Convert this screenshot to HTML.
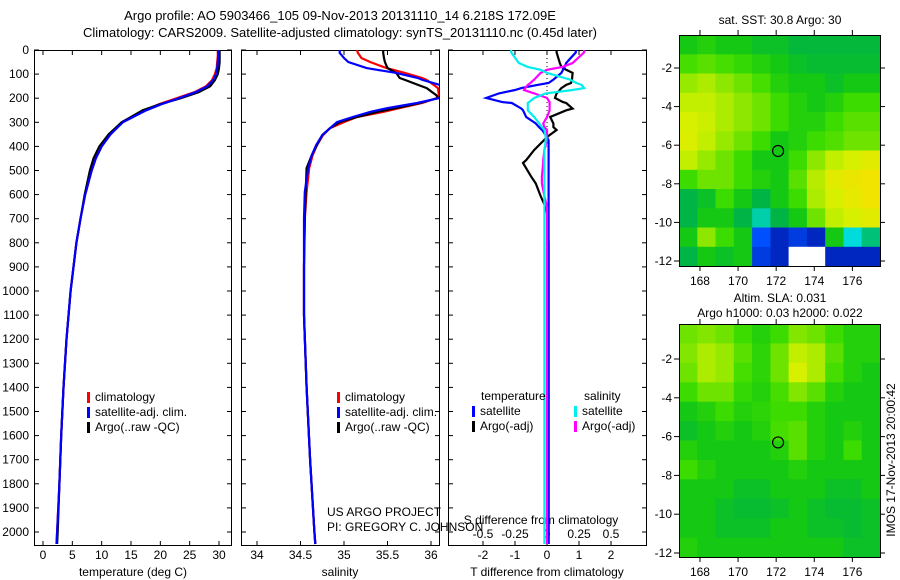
<!DOCTYPE html>
<html><head><meta charset="utf-8"><style>
body{margin:0;background:#fff;}
svg{display:block;font-family:"Liberation Sans",sans-serif;font-size:12px;}
</style></head><body>
<svg id="c" width="900" height="580" viewBox="0 0 900 580"></svg>
<script>
const depths=[0,25,50,75,100,125,150,175,200,225,250,300,350,400,450,500,600,700,800,900,1000,1200,1400,1600,1800,2000,2050];
const tempClim=[29.8,29.8,29.7,29.6,29.3,28.8,27.8,25.8,22.8,19.8,17.4,13.5,11.5,10.0,9.0,8.3,7.2,6.4,5.7,5.2,4.7,4.0,3.5,3.1,2.8,2.4,2.3];
const tempSat=[29.9,29.9,29.8,29.7,29.5,29.0,28.0,26.0,23.2,20.2,17.6,13.6,11.5,10.0,9.0,8.3,7.2,6.4,5.7,5.2,4.7,4.0,3.5,3.1,2.8,2.4,2.3];
const tempArgo=[30.1,30.1,30.1,30.0,29.8,29.3,28.5,26.5,23.5,20.0,17.0,13.4,11.2,9.6,8.6,8.0,7.1,6.4,5.7,5.2,4.7,4.0,3.5,3.1,2.8,2.5,2.4];
const salDepths=[0,12,33,50,75,95,116,124,145,158,187,199,220,241,257,278,299,324,353,394,436,490,589,700,900,1100,1400,1700,2000,2050];
const salClim=[35.15,35.16,35.2,35.3,35.49,35.7,35.9,35.95,36.03,36.08,36.09,36.07,35.9,35.64,35.45,35.15,35.0,34.84,34.76,34.69,34.64,34.6,34.57,34.55,34.54,34.54,34.57,34.61,34.66,34.67];
const salSat=[34.95,34.95,35.0,35.05,35.26,35.6,35.85,35.9,36.1,36.15,36.2,36.1,35.84,35.5,35.3,35.1,34.92,34.84,34.75,34.68,34.63,34.59,34.55,34.54,34.54,34.54,34.57,34.61,34.66,34.67];
const salArgo=[35.45,35.45,35.46,35.47,35.5,35.6,35.64,35.7,35.85,35.95,36.06,36.08,35.87,35.6,35.38,35.15,34.95,34.84,34.75,34.69,34.63,34.57,34.56,34.55,34.54,34.54,34.57,34.61,34.66,34.67];
const diffDepths=[0,10,54,70,82,95,123,137,145,158,166,180,199,216,220,243,250,278,305,320,332,361,375,415,457,469,524,554,606,650,675,800,1000,1500,2050];
const dTSat=[0.9,0.9,0.6,0.55,0.5,0.45,0.2,0.05,-0.3,-0.8,-1.0,-1.5,-1.9,-1.4,-1.1,-0.8,-0.75,-0.65,-0.35,-0.25,-0.15,0.0,0.05,0.05,0.05,0.05,0.05,0.05,0.05,0.05,0.05,0.05,0.05,0.05,0.05];
const dTArgo=[0.3,0.3,0.4,0.45,0.6,0.8,0.78,0.75,0.6,0.45,0.4,0.3,0.25,0.5,0.6,0.8,0.6,0.1,0.2,0.2,0.3,0.0,-0.1,-0.4,-0.65,-0.75,-0.5,-0.35,-0.2,-0.05,0.0,0.05,0.05,0.05,0.05];
const dSSat=[-0.28,-0.28,-0.22,-0.15,-0.05,0.0,0.18,0.23,0.27,0.29,0.2,-0.01,-0.1,-0.14,-0.15,-0.15,-0.15,-0.1,-0.06,-0.04,-0.02,-0.01,-0.01,-0.02,-0.02,-0.02,-0.02,-0.02,-0.02,-0.02,-0.02,-0.02,-0.02,-0.02,-0.02];
const dSArgo=[0.29,0.29,0.2,0.12,0.0,-0.05,-0.1,-0.13,-0.15,-0.17,-0.18,-0.1,0.0,0.02,0.02,0.02,0.02,0.0,-0.03,-0.02,0.0,0.0,0.0,-0.02,-0.03,-0.03,-0.04,-0.04,-0.02,0.0,0.0,0.0,0.0,0.0,0.0];
const depthTicks=[0,100,200,300,400,500,600,700,800,900,1000,1100,1200,1300,1400,1500,1600,1700,1800,1900,2000];
const tTicks=[0,5,10,15,20,25,30];
const sTicks=[34,34.5,35,35.5,36];
const dTTicks=[-2,-1,0,1,2];
const dSTickLabels=["-0.5","-0.25","0","0.25","0.5"];
const dSTicks=[-0.5,-0.25,0,0.25,0.5];
const lonTicks=[168,170,172,174,176];
const latTicks=[-2,-4,-6,-8,-10,-12];
const sstGrid=[
[.5,.52,.5,.5,.48,.48,.46,.46,.46,.46,.46],
[.56,.58,.56,.54,.52,.5,.48,.47,.47,.47,.47],
[.64,.66,.63,.6,.56,.52,.5,.5,.48,.5,.5],
[.68,.68,.66,.63,.6,.55,.52,.5,.52,.55,.55],
[.7,.69,.66,.63,.6,.55,.52,.52,.55,.58,.58],
[.71,.68,.64,.6,.55,.5,.52,.55,.57,.6,.6],
[.68,.64,.6,.55,.5,.5,.55,.63,.68,.7,.72],
[.55,.6,.6,.55,.52,.5,.58,.67,.72,.74,.75],
[.45,.48,.55,.5,.45,.5,.55,.66,.7,.73,.75],
[.45,.5,.5,.45,.35,.45,.5,.6,.68,.7,.72],
[.5,.63,.55,.5,.2,.1,.15,.1,.5,.3,.4],
[.45,.5,.48,.5,.15,.1,-1,-1,.1,.1,.1]];
const slaGrid=[
[.6,.62,.6,.55,.52,.55,.62,.6,.55,.52,.52],
[.62,.66,.64,.58,.53,.6,.68,.66,.58,.52,.52],
[.6,.66,.64,.56,.53,.6,.7,.66,.56,.52,.5],
[.55,.6,.6,.54,.52,.56,.62,.58,.52,.5,.5],
[.5,.52,.55,.52,.53,.55,.55,.52,.5,.5,.5],
[.48,.5,.52,.5,.52,.56,.58,.52,.5,.52,.5],
[.52,.5,.5,.5,.5,.52,.58,.52,.5,.55,.5],
[.55,.52,.5,.5,.5,.5,.52,.5,.5,.5,.5],
[.5,.5,.5,.48,.48,.5,.5,.5,.48,.48,.5],
[.5,.5,.48,.47,.47,.48,.5,.48,.47,.47,.48],
[.5,.5,.48,.48,.48,.5,.5,.48,.48,.47,.48],
[.52,.5,.5,.5,.5,.5,.5,.5,.5,.48,.48]];
const argoLon=172.1, argoLat=-6.3;

const NS="http://www.w3.org/2000/svg";
const svg=document.getElementById('c');
function el(tag,attrs,parent){const e=document.createElementNS(NS,tag);for(const k in attrs)e.setAttribute(k,attrs[k]);(parent||svg).appendChild(e);return e;}
function txt(x,y,s,anchor,parent,size){const t=el('text',{x:x,y:y,'text-anchor':anchor||'start','font-size':size||12},parent);t.textContent=s;return t;}
const Y0=50,PB=545;
const yD=d=>Y0+d*0.2410;
const panels=[{x0:34,x1:231},{x0:241,x1:439},{x0:448,x1:646}];
const xT=v=>43+v*(219-43)/30;
const xS=v=>257+(v-34)*87;
const xDT=v=>547+v*32;
const xDS=v=>547+v*128;

let t=txt(340,20,"Argo profile: AO 5903466_105 09-Nov-2013 20131110_14 6.218S 172.09E","middle",null,13);

t=txt(340,37,"Climatology: CARS2009. Satellite-adjusted climatology: synTS_20131110.nc (0.45d later)","middle",null,13);


const defs=el('defs',{});
panels.forEach((p,i)=>{
  const cp=el('clipPath',{id:'cp'+i},defs);
  el('rect',{x:p.x0,y:Y0,width:p.x1-p.x0,height:PB-Y0},cp);
});

function panelFrame(p,name){
  const g=el('g',{});
  
  
  el('rect',{x:p.x0+0.5,y:Y0+0.5,width:p.x1-p.x0,height:PB-Y0,fill:'none',stroke:'#000'},g);
  depthTicks.forEach(d=>{
    el('line',{x1:p.x0,x2:p.x0+5,y1:yD(d),y2:yD(d),stroke:'#000'},g);
    el('line',{x1:p.x1-4,x2:p.x1+1,y1:yD(d),y2:yD(d),stroke:'#000'},g);
  });
  return g;
}
function line(xs,ds,sc,color,clip,name){
  const pts=xs.map((v,i)=>sc(v).toFixed(1)+','+yD(ds[i]).toFixed(1)).join(' ');
  const pl=el('polyline',{points:pts,fill:'none',stroke:color,'stroke-width':2.2,'clip-path':'url(#'+clip+')'});
  
  
}
function xTicks(p,ticks,sc,labels,name,ylab){
  const g=el('g',{});
  
  
  ticks.forEach((v,i)=>{
    const x=sc(v);
    el('line',{x1:x,x2:x,y1:Y0,y2:Y0+5,stroke:'#000'},g);
    el('line',{x1:x,x2:x,y1:PB-4,y2:PB,stroke:'#000'},g);
    txt(x,ylab||559,labels?labels[i]:String(v),'middle',g);
  });
}
panelFrame(panels[0],'temperature-panel');
const ya=el('g',{});
depthTicks.forEach(d=>txt(29,yD(d)+4,String(d),'end',ya));
xTicks(panels[0],tTicks,xT,null,'temperature-x-axis');
t=txt(133,576,"temperature (deg C)","middle");
line(tempClim,depths,xT,'#f00','cp0','temp-climatology-line');
line(tempArgo,depths,xT,'#000','cp0','temp-argo-line');
line(tempSat,depths,xT,'#00f','cp0','temp-satellite-line');
panelFrame(panels[1],'salinity-panel');
xTicks(panels[1],sTicks,xS,null,'salinity-x-axis');
t=txt(340,576,"salinity","middle");
line(salClim,salDepths,xS,'#f00','cp1','sal-climatology-line');
line(salArgo,salDepths,xS,'#000','cp1','sal-argo-line');
line(salSat,salDepths,xS,'#00f','cp1','sal-satellite-line');
function legend(x,y,items,name){
  const g=el('g',{});
  items.forEach((it,i)=>{
    el('rect',{x:x,y:y+i*15-9,width:3,height:11,fill:it[0]},g);
    txt(x+8,y+i*15,it[1],'start',g);
  });
}
const leg=[['#f00','climatology'],['#00f','satellite-adj. clim.'],['#000','Argo(..raw -QC)']];
legend(87,401,leg,'temperature-legend');
legend(337,401,leg,'salinity-legend');
t=txt(327,516,"US ARGO PROJECT");
t=txt(327,531,"PI: GREGORY C. JOHNSON");
panelFrame(panels[2],'difference-panel');
xTicks(panels[2],dTTicks,xDT,null,'t-difference-axis');
const sg=el('g',{});
dSTicks.forEach((v,i)=>txt(xDS(v),538,dSTickLabels[i],'middle',sg));
t=txt(541,524,"S difference from climatology","middle");
t=txt(547,576,"T difference from climatology","middle");
el('line',{x1:xDT(0),x2:xDT(0),y1:Y0,y2:yD(400),stroke:'#000','stroke-dasharray':'1,3'});
line(dTArgo,diffDepths,xDT,'#000','cp2','dT-argo-line');
line(dTSat,diffDepths,xDT,'#00f','cp2','dT-satellite-line');
line(dSArgo,diffDepths,xDS,'#f0f','cp2','dS-argo-line');
line(dSSat,diffDepths,xDS,'#0ee','cp2','dS-satellite-line');
const lg=el('g',{});
txt(481,400,"temperature",'start',lg);txt(584,400,"salinity",'start',lg);
[['#00f',472,'satellite'],['#000',472,'Argo(-adj)'],['#0ee',574,'satellite'],['#f0f',574,'Argo(-adj)']].forEach((it,i)=>{
  const yy=415+(i%2)*15;
  el('rect',{x:it[1],y:yy-9,width:3,height:11,fill:it[0]},lg);
  txt(it[1]+8,yy,it[2],'start',lg);
});

const stops=[[0,[0,0,130]],[0.2,[0,80,255]],[0.3,[0,220,220]],[0.45,[0,180,70]],[0.5,[20,200,20]],[0.55,[60,220,0]],[0.62,[130,230,0]],[0.7,[215,240,0]],[0.78,[255,220,0]],[0.9,[255,160,0]],[1,[255,120,0]]];
function cmap(v){
  if(v<0)return '#fff';
  for(let i=1;i<stops.length;i++){if(v<=stops[i][0]){const a=stops[i-1],b=stops[i],f=(v-a[0])/(b[0]-a[0]);return 'rgb('+a[1].map((c,k)=>Math.round(c+(b[1][k]-c)*f)).join(',')+')';}}
  return 'rgb(255,120,0)';
}
function drawMap(box,grid,name){
  const lonMin=166.9,lonMax=177.45;
  const lx=v=>box.x0+(v-lonMin)/(lonMax-lonMin)*(box.x1-box.x0);
  const ly=v=>box.yRef+(-2-v)*box.ppd;
  const latTop=-2+(box.yRef-box.y0)/box.ppd, latBot=-2-(box.y1-box.yRef)/box.ppd;
  const g=el('g',{});
  const rows=grid.length,cols=grid[0].length;
  const dLon=(lonMax-lonMin)/cols,dLat=(latTop-latBot)/rows;
  grid.forEach((row,r)=>row.forEach((v,c)=>{
    const xa=lx(lonMin+c*dLon),xb=lx(lonMin+(c+1)*dLon),yb=ly(latTop-r*dLat),ye=ly(latTop-(r+1)*dLat);
    const cell=el('rect',{x:xa.toFixed(1),y:yb.toFixed(1),width:(xb-xa+0.6).toFixed(1),height:(ye-yb+0.6).toFixed(1),fill:cmap(v)},g);
    
    
  }));
  el('rect',{x:box.x0+0.5,y:box.y0+0.5,width:box.x1-box.x0,height:box.y1-box.y0,fill:'none',stroke:'#000'},g);
  lonTicks.forEach(v=>{el('line',{x1:lx(v),x2:lx(v),y1:box.y0-5,y2:box.y0,stroke:'#000'},g);el('line',{x1:lx(v),x2:lx(v),y1:box.y1,y2:box.y1+5,stroke:'#000'},g);txt(lx(v),box.y1+19,String(v),'middle',g);});
  latTicks.forEach(v=>{el('line',{x1:box.x0-5,x2:box.x0,y1:ly(v),y2:ly(v),stroke:'#000'},g);el('line',{x1:box.x1,x2:box.x1+5,y1:ly(v),y2:ly(v),stroke:'#000'},g);txt(box.x0-7,ly(v)+4,String(v),'end',g);});
  el('circle',{cx:lx(argoLon),cy:ly(argoLat),r:5.5,fill:'none',stroke:'#000','stroke-width':1.2},g);
}
drawMap({x0:679,x1:880,y0:35,y1:266,yRef:68,ppd:19.3},sstGrid,'sst-map');
drawMap({x0:679,x1:880,y0:324,y1:557,yRef:359,ppd:19.4},slaGrid,'sla-map');
t=txt(780,24,"sat. SST: 30.8 Argo: 30","middle");
t=txt(780,302,"Altim. SLA: 0.031","middle");
t=txt(780,317,"Argo h1000: 0.03 h2000: 0.022","middle");
t=txt(0,0,"IMOS 17-Nov-2013 20:00:42","middle");t.setAttribute('transform','translate(895,460) rotate(-90)');

</script>
</body></html>
